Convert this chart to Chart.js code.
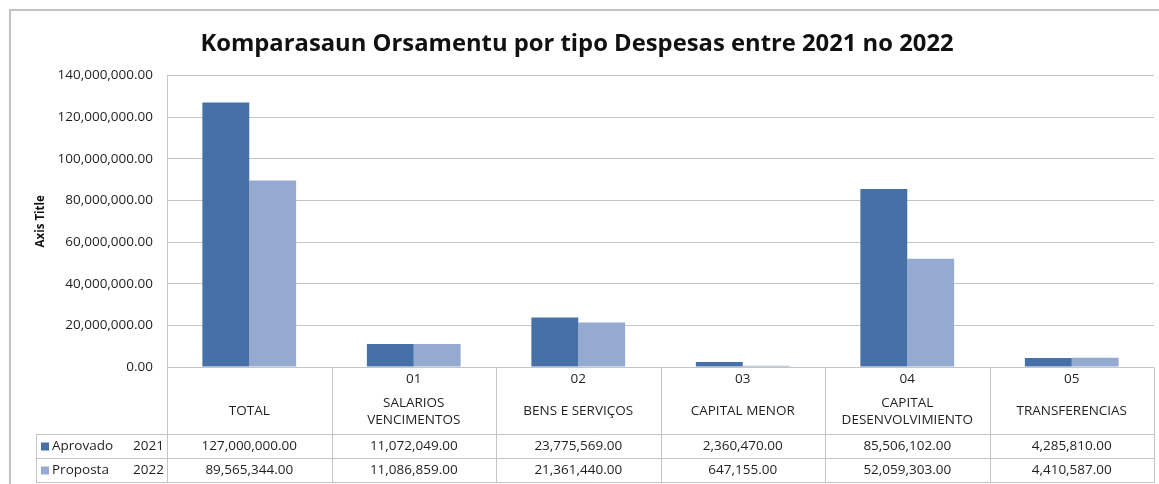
<!DOCTYPE html>
<html>
<head>
<meta charset="utf-8">
<script src="https://cdn.jsdelivr.net/npm/chart.js@4/dist/chart.umd.min.js"></script>
<style>
  html, body { margin: 0; padding: 0; background: #fff; }
  #box { position: relative; width: 1159px; height: 484px; }
</style>
</head>
<body>
<div id="box"><canvas id="chart"></canvas></div>
<script>
const codes = ['', '01', '02', '03', '04', '05'];
const nameLines = [
    ['TOTAL'],
    ['SALARIOS', 'VENCIMENTOS'],
    ['BENS E SERVIÇOS'],
    ['CAPITAL MENOR'],
    ['CAPITAL', 'DESENVOLVIMIENTO'],
    ['TRANSFERENCIAS'],
];
const seriesNames = ['Aprovado', 'Proposta'];
const seriesYears = ['2021', '2022'];
const aprovado2021 = [127000000, 11072049, 23775569, 2360470, 85506102, 4285810];
const proposta2022 = [89565344, 11086859, 21361440, 647155, 52059303, 4410587];
const yMin = 0;
const yMax = 140000000;
const yStep = 20000000;

const darkBlue = '#4571a8';
const lightBlue = '#94aad1';
const lineGray = '#c4c4c4';
const fontFamily = '"Open Sans", "Liberation Sans", sans-serif';

const money = (v) => v.toLocaleString('en-US', { minimumFractionDigits: 2, maximumFractionDigits: 2 });

// frame around the whole chart object, like the Excel chart border
const framePlugin = {
    id: 'frame',
    beforeDraw(chart) {
        const ctx = chart.ctx;
        ctx.save();
        ctx.strokeStyle = '#c2c2c2';
        ctx.lineWidth = 2;
        ctx.beginPath();
        ctx.moveTo(10, chart.height);
        ctx.lineTo(10, 10);
        ctx.lineTo(chart.width, 10);
        ctx.stroke();
        ctx.restore();
    },
};

// data table under the plot, columns follow the x scale
const tablePlugin = {
    id: 'dataTable',
    afterDraw(chart) {
        const ctx = chart.ctx;
        const x = chart.scales.x;
        const area = chart.chartArea;
        const half = (x.getPixelForValue(1) - x.getPixelForValue(0)) / 2;
        const top = Math.round(area.bottom) + 0.5;
        const row1 = top + 67;
        const row2 = row1 + 24;
        const bottom = row2 + 24;
        const legendLeft = 36.5;
        const right = Math.round(area.right) + 0.5;

        ctx.save();
        ctx.strokeStyle = lineGray;
        ctx.lineWidth = 1;
        ctx.beginPath();
        // horizontal rules
        ctx.moveTo(legendLeft, row1); ctx.lineTo(right, row1);
        ctx.moveTo(legendLeft, row2); ctx.lineTo(right, row2);
        ctx.moveTo(legendLeft, bottom); ctx.lineTo(right, bottom);
        // legend column left edge
        ctx.moveTo(legendLeft, row1); ctx.lineTo(legendLeft, bottom);
        // column separators
        codes.forEach((c, i) => {
            const xl = Math.round(x.getPixelForValue(i) - half) + 0.5;
            ctx.moveTo(xl, top); ctx.lineTo(xl, bottom);
        });
        ctx.moveTo(right, top); ctx.lineTo(right, bottom);
        ctx.stroke();

        ctx.fillStyle = '#1f1f1f';
        ctx.font = '13.5px ' + fontFamily;
        ctx.textAlign = 'center';
        ctx.textBaseline = 'middle';
        codes.forEach((c, i) => {
            const cx = x.getPixelForValue(i);
            if (c) ctx.fillText(c, cx, top + 12);
            const lines = nameLines[i];
            const mid = top + 44;
            lines.forEach((ln, k) => {
                ctx.fillText(ln, cx, mid + (k - (lines.length - 1) / 2) * 17);
            });
            ctx.fillText(money(aprovado2021[i]), cx, row1 + 12);
            ctx.fillText(money(proposta2022[i]), cx, row2 + 12);
        });

        // legend keys
        const keyColors = [darkBlue, lightBlue];
        [row1, row2].forEach((ry, k) => {
            ctx.fillStyle = keyColors[k];
            ctx.fillRect(41, ry + 8, 8, 8);
            ctx.fillStyle = '#1f1f1f';
            ctx.textAlign = 'left';
            ctx.fillText(seriesNames[k], 52, ry + 12);
            ctx.textAlign = 'right';
            ctx.fillText(seriesYears[k], 164, ry + 12);
        });
        ctx.restore();
    },
};

new Chart(document.getElementById('chart'), {
    type: 'bar',
    data: {
        labels: nameLines.map((l) => l.join(' ')),
        datasets: [
            {
                label: seriesNames[0] + ' ' + seriesYears[0],
                data: aprovado2021,
                backgroundColor: darkBlue,
            },
            {
                label: seriesNames[1] + ' ' + seriesYears[1],
                data: proposta2022,
                backgroundColor: lightBlue,
            },
        ],
    },
    options: {
        responsive: true,
        maintainAspectRatio: false,
        animation: false,
        categoryPercentage: 0.57,
        barPercentage: 1,
        layout: {
            padding: { left: 0, right: 5, top: 0, bottom: 117 },
        },
        plugins: {
            legend: { display: false },
            tooltip: { enabled: false },
            title: {
                display: true,
                text: 'Komparasaun Orsamentu por tipo Despesas entre 2021 no 2022',
                color: '#111',
                font: { family: fontFamily, size: 23.8, weight: 'bold' },
                padding: { top: 30, bottom: 17 },
            },
        },
        scales: {
            x: {
                grid: { display: false },
                border: { display: false },
                ticks: { display: false },
                afterFit(scale) {
                    scale.height = 0;
                },
            },
            y: {
                min: yMin,
                max: yMax,
                grid: { color: lineGray, drawTicks: false },
                border: { color: lineGray },
                ticks: {
                    stepSize: yStep,
                    padding: 14,
                    color: '#1f1f1f',
                    font: { family: fontFamily, size: 13.5 },
                    callback: (v) => money(v),
                },
                title: {
                    display: true,
                    text: 'Axis Title',
                    color: '#111',
                    font: { family: fontFamily, size: 11.5, weight: 'bold' },
                    padding: { top: 34, bottom: 0 },
                },
                afterFit(scale) {
                    scale.width = 167;
                },
            },
        },
    },
    plugins: [framePlugin, tablePlugin],
});
</script>
</body>
</html>
